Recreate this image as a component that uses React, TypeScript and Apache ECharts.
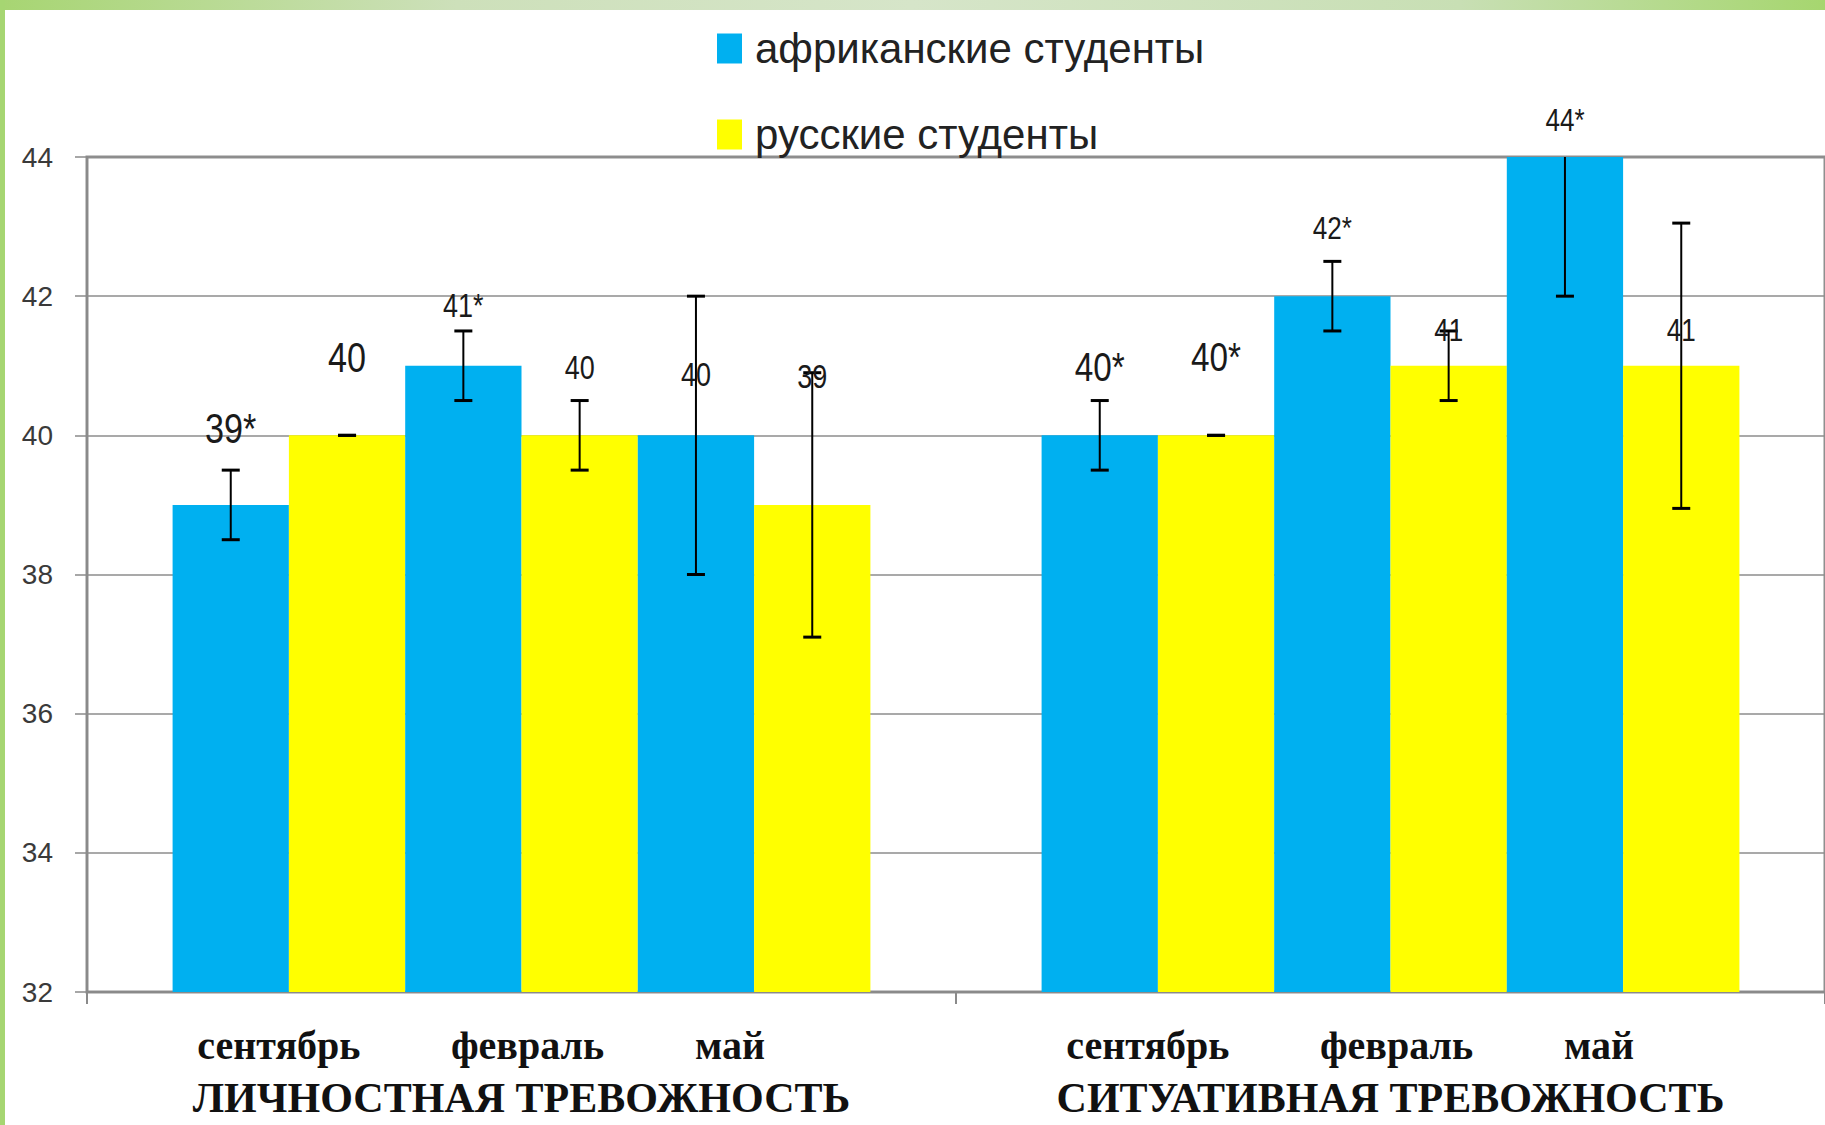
import React, { useEffect, useRef } from 'react';
import * as echarts from 'echarts';

// ---------- data ----------
const anxietyTypes = ['ЛИЧНОСТНАЯ ТРЕВОЖНОСТЬ', 'СИТУАТИВНАЯ ТРЕВОЖНОСТЬ'];
const months = ['сентябрь', 'февраль', 'май'];
const studentGroups = ['африканские студенты', 'русские студенты'];

// values per month (сентябрь, февраль, май)
const africanPersonal = [39, 41, 40];
const africanSituational = [40, 42, 44];
const russianPersonal = [40, 40, 39];
const russianSituational = [40, 41, 41];

// error bar half-widths per month
const africanPersonalErr = [0.5, 0.5, 2];
const africanSituationalErr = [0.5, 0.5, 2];
const russianPersonalErr = [0, 0.5, 1.9];
const russianSituationalErr = [0, 0.5, 2.05];

// value labels per month
const africanPersonalLabels = ['39*', '41*', '40'];
const africanSituationalLabels = ['40*', '42*', '44*'];
const russianPersonalLabels = ['40', '40', '39'];
const russianSituationalLabels = ['40*', '41', '41'];

// ---------- styles ----------
const BAR_COLORS = ['#00B0F0', '#FFFF00'];
const CATEGORY_GAP = 0.197;
// label centres, in axis units, and label font sizes
const africanPersonalLabelAt = [40.1, 41.86, 40.88];
const africanSituationalLabelAt = [40.99, 42.98, 44.53];
const russianPersonalLabelAt = [41.12, 40.98, 40.85];
const russianSituationalLabelAt = [41.13, 41.51, 41.51];
const africanPersonalLabelSize = [38, 30, 30];
const africanSituationalLabelSize = [37, 29, 29];
const russianPersonalLabelSize = [38, 30, 30];
const russianSituationalLabelSize = [37, 29, 29];
const monthLabelDx = [-10, 6, -24];

export default function App() {
  const ref = useRef<HTMLDivElement>(null);

  useEffect(() => {
    if (!ref.current) return;
    const chart = echarts.init(ref.current, undefined, { renderer: 'svg' });

    const values = [
      [africanPersonal, africanSituational],
      [russianPersonal, russianSituational],
    ];
    const errs = [
      [africanPersonalErr, africanSituationalErr],
      [russianPersonalErr, russianSituationalErr],
    ];
    const labels = [
      [africanPersonalLabels, africanSituationalLabels],
      [russianPersonalLabels, russianSituationalLabels],
    ];
    const labelAt = [
      [africanPersonalLabelAt, africanSituationalLabelAt],
      [russianPersonalLabelAt, russianSituationalLabelAt],
    ];
    const labelSize = [
      [africanPersonalLabelSize, africanSituationalLabelSize],
      [russianPersonalLabelSize, russianSituationalLabelSize],
    ];

    const barSeries: any[] = [];
    months.forEach((_, m) => {
      studentGroups.forEach((name, s) => {
        barSeries.push({
          type: 'bar',
          name,
          data: anxietyTypes.map((__, t) => values[s][t][m]),
          itemStyle: { color: BAR_COLORS[s] },
          barGap: '0%',
          barCategoryGap: CATEGORY_GAP * 100 + '%',
        });
      });
    });

    const errItems: any[] = [];
    const errInfo: any[] = [];
    anxietyTypes.forEach((_, t) => {
      months.forEach((__, m) => {
        studentGroups.forEach((___, s) => {
          errItems.push([t, m * 2 + s, values[s][t][m], errs[s][t][m]]);
          errInfo.push({
            text: labels[s][t][m],
            at: labelAt[s][t][m],
            size: labelSize[s][t][m],
          });
        });
      });
    });

    const slotX = (api: any, cat: number, slot: number, v: number) => {
      const band = api.size([1, 0])[0];
      const total = band * (1 - CATEGORY_GAP);
      const bw = total / 6;
      const c = api.coord([cat, v]);
      return { x: c[0] - total / 2 + bw * (slot + 0.5), bw };
    };

    const errorSeries = {
      type: 'custom',
      name: 'errors',
      encode: { x: 0, y: 2 },
      data: errItems,
      z: 5,
      renderItem: (params: any, api: any) => {
        const info = errInfo[params.dataIndex];
        const cat = api.value(0);
        const slot = api.value(1);
        const v = api.value(2);
        const e = api.value(3);
        const { x } = slotX(api, cat, slot, v);
        const cs = params.coordSys;
        const yTopRaw = api.coord([cat, v + e])[1];
        const yTop = Math.max(yTopRaw, cs.y);
        const yBot = api.coord([cat, v - e])[1];
        const capW = 9;
        const children: any[] = [
          {
            type: 'line',
            shape: { x1: x, y1: yTop, x2: x, y2: yBot },
            style: { stroke: '#000', lineWidth: 2 },
          },
          {
            type: 'line',
            shape: { x1: x - capW, y1: yBot, x2: x + capW, y2: yBot },
            style: { stroke: '#000', lineWidth: 3 },
          },
        ];
        if (yTopRaw >= cs.y - 0.5) {
          children.push({
            type: 'line',
            shape: { x1: x - capW, y1: yTop, x2: x + capW, y2: yTop },
            style: { stroke: '#000', lineWidth: 3 },
          });
        }
        const ly = api.coord([cat, info.at])[1];
        children.push({
          type: 'text',
          x,
          y: ly,
          scaleX: 0.9,
          scaleY: 1.1,
          style: {
            text: info.text,
            fontSize: info.size,
            fontFamily: 'Liberation Sans, Arial, sans-serif',
            fill: '#1a1a1a',
            align: 'center',
            verticalAlign: 'middle',
          },
        });
        return { type: 'group', children };
      },
    };

    const monthItems: any[] = [];
    anxietyTypes.forEach((_, t) => {
      months.forEach((__, m) => monthItems.push([t, m, 32]));
    });

    const monthSeries = {
      type: 'custom',
      name: 'months',
      encode: { x: 0, y: 2 },
      data: monthItems,
      z: 5,
      renderItem: (params: any, api: any) => {
        const cat = api.value(0);
        const m = api.value(1);
        const { x, bw } = slotX(api, cat, m * 2, 32);
        const base = api.coord([cat, 32])[1];
        return {
          type: 'text',
          x: x + bw / 2 + monthLabelDx[m],
          y: base + 53,
          style: {
            text: months[m],
            fontSize: 40,
            fontWeight: 'bold',
            fontFamily: 'Liberation Serif, Times New Roman, serif',
            fill: '#111',
            align: 'center',
            verticalAlign: 'middle',
          },
        };
      },
    };

    chart.setOption({
      animation: false,
      backgroundColor: '#ffffff',
      graphic: [
        {
          type: 'rect',
          left: 0,
          top: 0,
          shape: { x: 0, y: 0, width: 1825, height: 10 },
          style: {
            fill: new echarts.graphic.LinearGradient(0, 0, 1, 0, [
              { offset: 0, color: '#A7D572' },
              { offset: 0.25, color: '#CDE0BA' },
              { offset: 0.5, color: '#D6E5C9' },
              { offset: 0.8, color: '#C8DFB4' },
              { offset: 1, color: '#A6D66F' },
            ]),
          },
          z: 100,
        },
        {
          type: 'rect',
          left: 0,
          top: 0,
          shape: { x: 0, y: 0, width: 5, height: 1125 },
          style: { fill: '#A6D672' },
          z: 100,
        },
      ],
      legend: {
        orient: 'vertical',
        left: 712,
        top: 22,
        data: studentGroups,
        icon: 'rect',
        itemWidth: 25,
        itemHeight: 30,
        itemGap: 43,
        selectedMode: false,
        textStyle: {
          fontSize: 42,
          lineHeight: 43,
          fontFamily: 'Liberation Sans, Arial, sans-serif',
          color: '#222',
          padding: [0, 0, 0, 8],
        },
      },
      grid: {
        left: 87,
        right: -2,
        top: 157,
        bottom: 133,
        show: true,
        borderColor: '#8f8f8f',
        borderWidth: 3,
        backgroundColor: 'transparent',
      },
      xAxis: {
        type: 'category',
        data: anxietyTypes,
        axisLine: { lineStyle: { color: '#8a8a8a', width: 2 } },
        axisTick: { show: true, length: 12, lineStyle: { color: '#8a8a8a', width: 2 } },
        axisLabel: {
          margin: 85,
          fontSize: 42,
          lineHeight: 42,
          fontWeight: 'bold',
          fontFamily: 'Liberation Serif, Times New Roman, serif',
          color: '#111',
        },
      },
      yAxis: {
        type: 'value',
        min: 32,
        max: 44,
        interval: 2,
        axisLine: { show: true, lineStyle: { color: '#8a8a8a', width: 2 } },
        axisTick: { show: true, length: 12, lineStyle: { color: '#8a8a8a', width: 1.5 } },
        splitLine: { lineStyle: { color: '#8c8c8c', width: 1.5 } },
        axisLabel: {
          margin: 34,
          fontSize: 28,
          fontFamily: 'Liberation Sans, Arial, sans-serif',
          color: '#3a3a3a',
        },
      },
      series: [...barSeries, errorSeries, monthSeries],
    });

    return () => chart.dispose();
  }, []);

  return (
    <div
      ref={ref}
      style={{ position: 'fixed', left: 0, top: 0, width: 1825, height: 1125, background: '#fff' }}
    />
  );
}
